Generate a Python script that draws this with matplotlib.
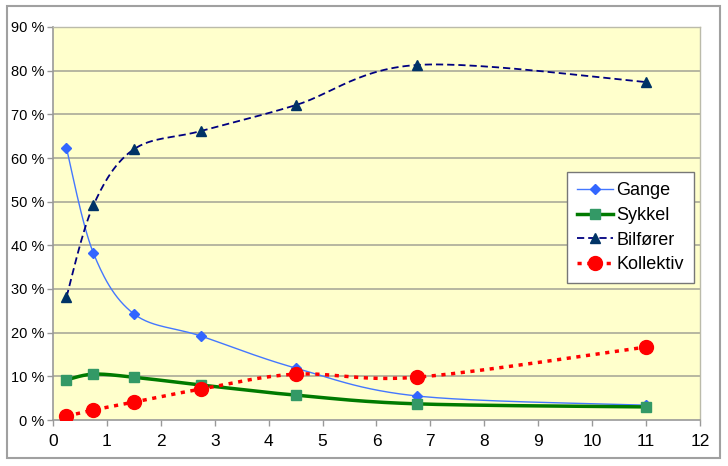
import numpy as np
import matplotlib
matplotlib.use("Agg")
import matplotlib.pyplot as plt
from matplotlib.patches import Rectangle

plt.rcParams['font.family'] = ['Liberation Sans', 'DejaVu Sans']

x = [0.25, 0.75, 1.5, 2.75, 4.5, 6.75, 11.0]
gange = [62.2, 38.2, 24.3, 19.2, 11.9, 5.5, 3.4]
sykkel = [9.2, 10.5, 9.8, 8.0, 5.7, 3.7, 3.0]
bilforer = [28.2, 49.2, 62.0, 66.2, 72.1, 81.3, 77.4]
kollektiv = [0.9, 2.3, 4.1, 7.1, 10.5, 9.8, 16.7]
labels = ["Gange", "Sykkel", "Bilfører", "Kollektiv"]
yticks = list(range(0, 100, 10))
xticks = list(range(0, 13))

W, H = 728, 466
fig = plt.figure(figsize=(W / 100, H / 100), dpi=100)
L, R, T, B = 53, 700, 27, 420
ax = fig.add_axes([L / W, 1 - B / H, (R - L) / W, (B - T) / H])
ax.set_facecolor('#ffffcc')
ax.set_xlim(0, 12)
ax.set_ylim(0, 90)

# outer frame
fig.patches.append(Rectangle((7 / W, 1 - 458 / H), (720 - 7) / W, (458 - 6) / H,
                             transform=fig.transFigure, fill=False,
                             edgecolor='#a0a0a0', lw=1.5))

sx = (R - L) / 12.0
sy = (B - T) / 90.0


def smooth(xs, ys, n=30):
    px = np.array(xs) * sx
    py = np.array(ys) * sy
    P = np.column_stack([px, py])
    out = []
    for i in range(len(P) - 1):
        p0 = P[i - 1] if i > 0 else P[i]
        p1 = P[i]
        p2 = P[i + 1]
        p3 = P[i + 2] if i + 2 < len(P) else P[i + 1]
        c1 = p1 + (p2 - p0) / 6.0
        c2 = p2 - (p3 - p1) / 6.0
        t = np.linspace(0, 1, n)[:, None]
        seg = ((1 - t) ** 3) * p1 + 3 * ((1 - t) ** 2) * t * c1 + 3 * (1 - t) * t ** 2 * c2 + t ** 3 * p2
        if i > 0:
            seg = seg[1:]
        out.append(seg)
    out = np.vstack(out)
    return out[:, 0] / sx, out[:, 1] / sy


for yv in yticks[1:]:
    ax.axhline(yv, color='#aaaa99', lw=1.2, zorder=1)

styles = [
    dict(color='#4477ff', lw=1.0, ls='-', marker='D', ms=5, mfc='#3366ff', mec='#3366ff'),
    dict(color='#007a00', lw=2.5, ls='-', marker='s', ms=7, mfc='#339966', mec='#339966'),
    dict(color='#000080', lw=1.3, ls=(0, (4, 2.2)), marker='^', ms=7, mfc='#003366', mec='#003366'),
    dict(color='#ff0000', lw=2.5, ls=(0, (1.2, 1.6)), marker='o', ms=10, mfc='#ff0000', mec='#ff0000'),
]
series = [gange, sykkel, bilforer, kollektiv]
handles = []
for ys, st, lab in zip(series, styles, labels):
    xs_s, ys_s = smooth(x, ys)
    ax.plot(xs_s, ys_s, color=st['color'], lw=st['lw'], ls=st['ls'], zorder=3)
    ax.plot(x, ys, ls='none', marker=st['marker'], ms=st['ms'], mfc=st['mfc'],
            mec=st['mec'], zorder=4)
    h, = ax.plot([], [], color=st['color'], lw=st['lw'], ls=st['ls'], marker=st['marker'],
                 ms=st['ms'], mfc=st['mfc'], mec=st['mec'], label=lab)
    handles.append(h)

ax.set_yticks(yticks)
ax.set_yticklabels([f"{v} %" for v in yticks], fontsize=10.5)
ax.set_xticks(xticks)
ax.set_xticklabels([str(v) for v in xticks], fontsize=12.5)
ax.tick_params(axis='both', direction='out', length=4, color='#999999', width=1)
ax.tick_params(axis='y', pad=2)
ax.tick_params(axis='x', pad=6)

for s in ['left', 'bottom']:
    ax.spines[s].set_color('#999999')
    ax.spines[s].set_linewidth(1.2)
for s in ['right', 'top']:
    ax.spines[s].set_color('#bbbbaa')
    ax.spines[s].set_linewidth(1.0)

leg = ax.legend(handles=handles, loc='upper left', bbox_to_anchor=(0.794, 0.630),
                fontsize=13, frameon=True, fancybox=False, edgecolor='#777777',
                framealpha=1, borderpad=0.55, labelspacing=0.42, handlelength=2.0,
                handletextpad=0.2, borderaxespad=0)
leg.get_frame().set_linewidth(1.0)

fig.savefig('out.png', dpi=100)
